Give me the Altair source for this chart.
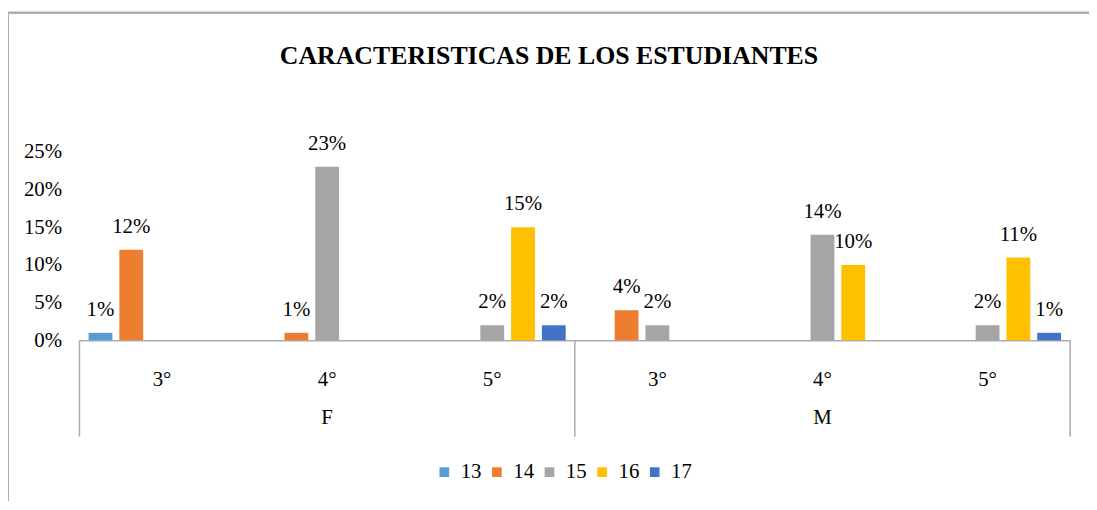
import altair as alt
import pandas as pd

# ---- data ----
sexes = ["F", "F", "F", "M", "M", "M"]
grades = ["3°", "4°", "5°", "3°", "4°", "5°"]
series = ["13", "14", "15", "16", "17"]
v13 = [0.01, None, None, None, None, None]
v14 = [0.12, 0.01, None, 0.04, None, None]
v15 = [None, 0.23, 0.02, 0.02, 0.14, 0.02]
v16 = [None, None, 0.15, None, 0.10, 0.11]
v17 = [None, None, 0.02, None, None, 0.01]
colors = ["#5B9BD5", "#ED7D31", "#A5A5A5", "#FFC000", "#4472C4"]
y_ticks = [0, 0.05, 0.10, 0.15, 0.20, 0.25]
title_text = "CARACTERISTICAS DE LOS ESTUDIANTES"

cats = [f"{s}|{g}" for s, g in zip(sexes, grades)]
rows = []
for name, vals in zip(series, [v13, v14, v15, v16, v17]):
    for c, v in zip(cats, vals):
        if v is not None:
            rows.append({"cat": c, "serie": name, "valor": v})
df = pd.DataFrame(rows)

FONT = "Liberation Serif"
W, H = 998, 190
GRAY = "#ADADAD"

xaxis = alt.Axis(
    title=None,
    labelExpr="split(datum.label, '|')[1]",
    labelAngle=0,
    labelFont=FONT,
    labelFontSize=21,
    labelColor="#000000",
    labelPadding=28,
    ticks=False,
    domainColor=GRAY,
    domainWidth=1.5,
)
xscale = alt.Scale(domain=cats, paddingInner=0, paddingOuter=0)


def xenc(band=0.5):
    return alt.X("cat:N", sort=cats, scale=xscale, axis=xaxis, bandPosition=band)


xoff = alt.XOffset(
    "serie:N",
    sort=series,
    scale=alt.Scale(domain=series, paddingInner=0.226, paddingOuter=0.296),
)
yaxis = alt.Axis(
    title=None,
    format=".0%",
    values=y_ticks,
    grid=False,
    domain=False,
    ticks=False,
    labelOverlap=False,
    labelFont=FONT,
    labelFontSize=21,
    labelColor="#000000",
    labelPadding=18,
)
yenc = alt.Y("valor:Q", scale=alt.Scale(domain=[0, 0.25], nice=False), axis=yaxis)

bars = alt.Chart(df).mark_bar().encode(
    x=xenc(),
    xOffset=xoff,
    y=yenc,
    color=alt.Color(
        "serie:N",
        sort=series,
        scale=alt.Scale(domain=series, range=colors),
        legend=alt.Legend(
            title=None,
            orient="none",
            direction="horizontal",
            legendX=357,
            legendY=312,
            symbolType="square",
            symbolSize=95,
            symbolStrokeWidth=0,
            labelFont=FONT,
            labelFontSize=21,
            labelColor="#000000",
            labelOffset=6,
            columnPadding=5,
            padding=0,
        ),
    ),
)

labels = alt.Chart(df).mark_text(
    font=FONT, fontSize=21, color="#000000", baseline="alphabetic", dy=-17
).encode(
    x=xenc(),
    xOffset=xoff,
    y=yenc,
    text=alt.Text("valor:Q", format=".0%"),
)

# second-level axis (sex) labels, centred under the middle grade of each group
sex_df = pd.DataFrame({"cat": ["F|4°", "M|4°"], "sexo": ["F", "M"]})
sex_text = alt.Chart(sex_df).mark_text(
    font=FONT, fontSize=21, color="#000000", baseline="middle"
).encode(
    x=xenc(),
    y=alt.value(268),
    text="sexo:N",
)

# group divider lines of the multi-level axis
start_df = pd.DataFrame({"cat": ["F|3°", "M|3°"]})
end_df = pd.DataFrame({"cat": ["M|5°"]})
div_start = alt.Chart(start_df).mark_rule(color=GRAY, strokeWidth=1.5).encode(
    x=xenc(0), y=alt.value(H), y2=alt.value(287)
)
div_end = alt.Chart(end_df).mark_rule(color=GRAY, strokeWidth=1.5).encode(
    x=xenc(1), y=alt.value(H), y2=alt.value(287)
)

# chart-area frame (top and left edges visible in the reference)
frame_top = alt.Chart(start_df).mark_rule(color=GRAY, strokeWidth=2).encode(
    x=alt.value(-72), x2=alt.value(1030), y=alt.value(-140)
)
frame_left = alt.Chart(start_df).mark_rule(color=GRAY, strokeWidth=2).encode(
    x=alt.value(-72), y=alt.value(-140), y2=alt.value(360)
)

chart = (
    alt.layer(frame_top, frame_left, bars, labels, sex_text, div_start, div_end)
    .properties(
        width=W,
        height=H,
        title=alt.TitleParams(
            text=title_text,
            font=FONT,
            fontSize=26,
            fontWeight="bold",
            color="#000000",
            anchor="middle",
            frame="group",
            dx=-26,
            offset=-58,
        ),
        autosize=alt.AutoSizeParams(type="none"),
        padding={"left": 72, "top": 143, "right": 19, "bottom": 160},
    )
    .configure(background="#FFFFFF")
    .configure_view(strokeWidth=0, stroke=None)
)

chart.save("out.html", embed_options={"renderer": "svg", "actions": False})
